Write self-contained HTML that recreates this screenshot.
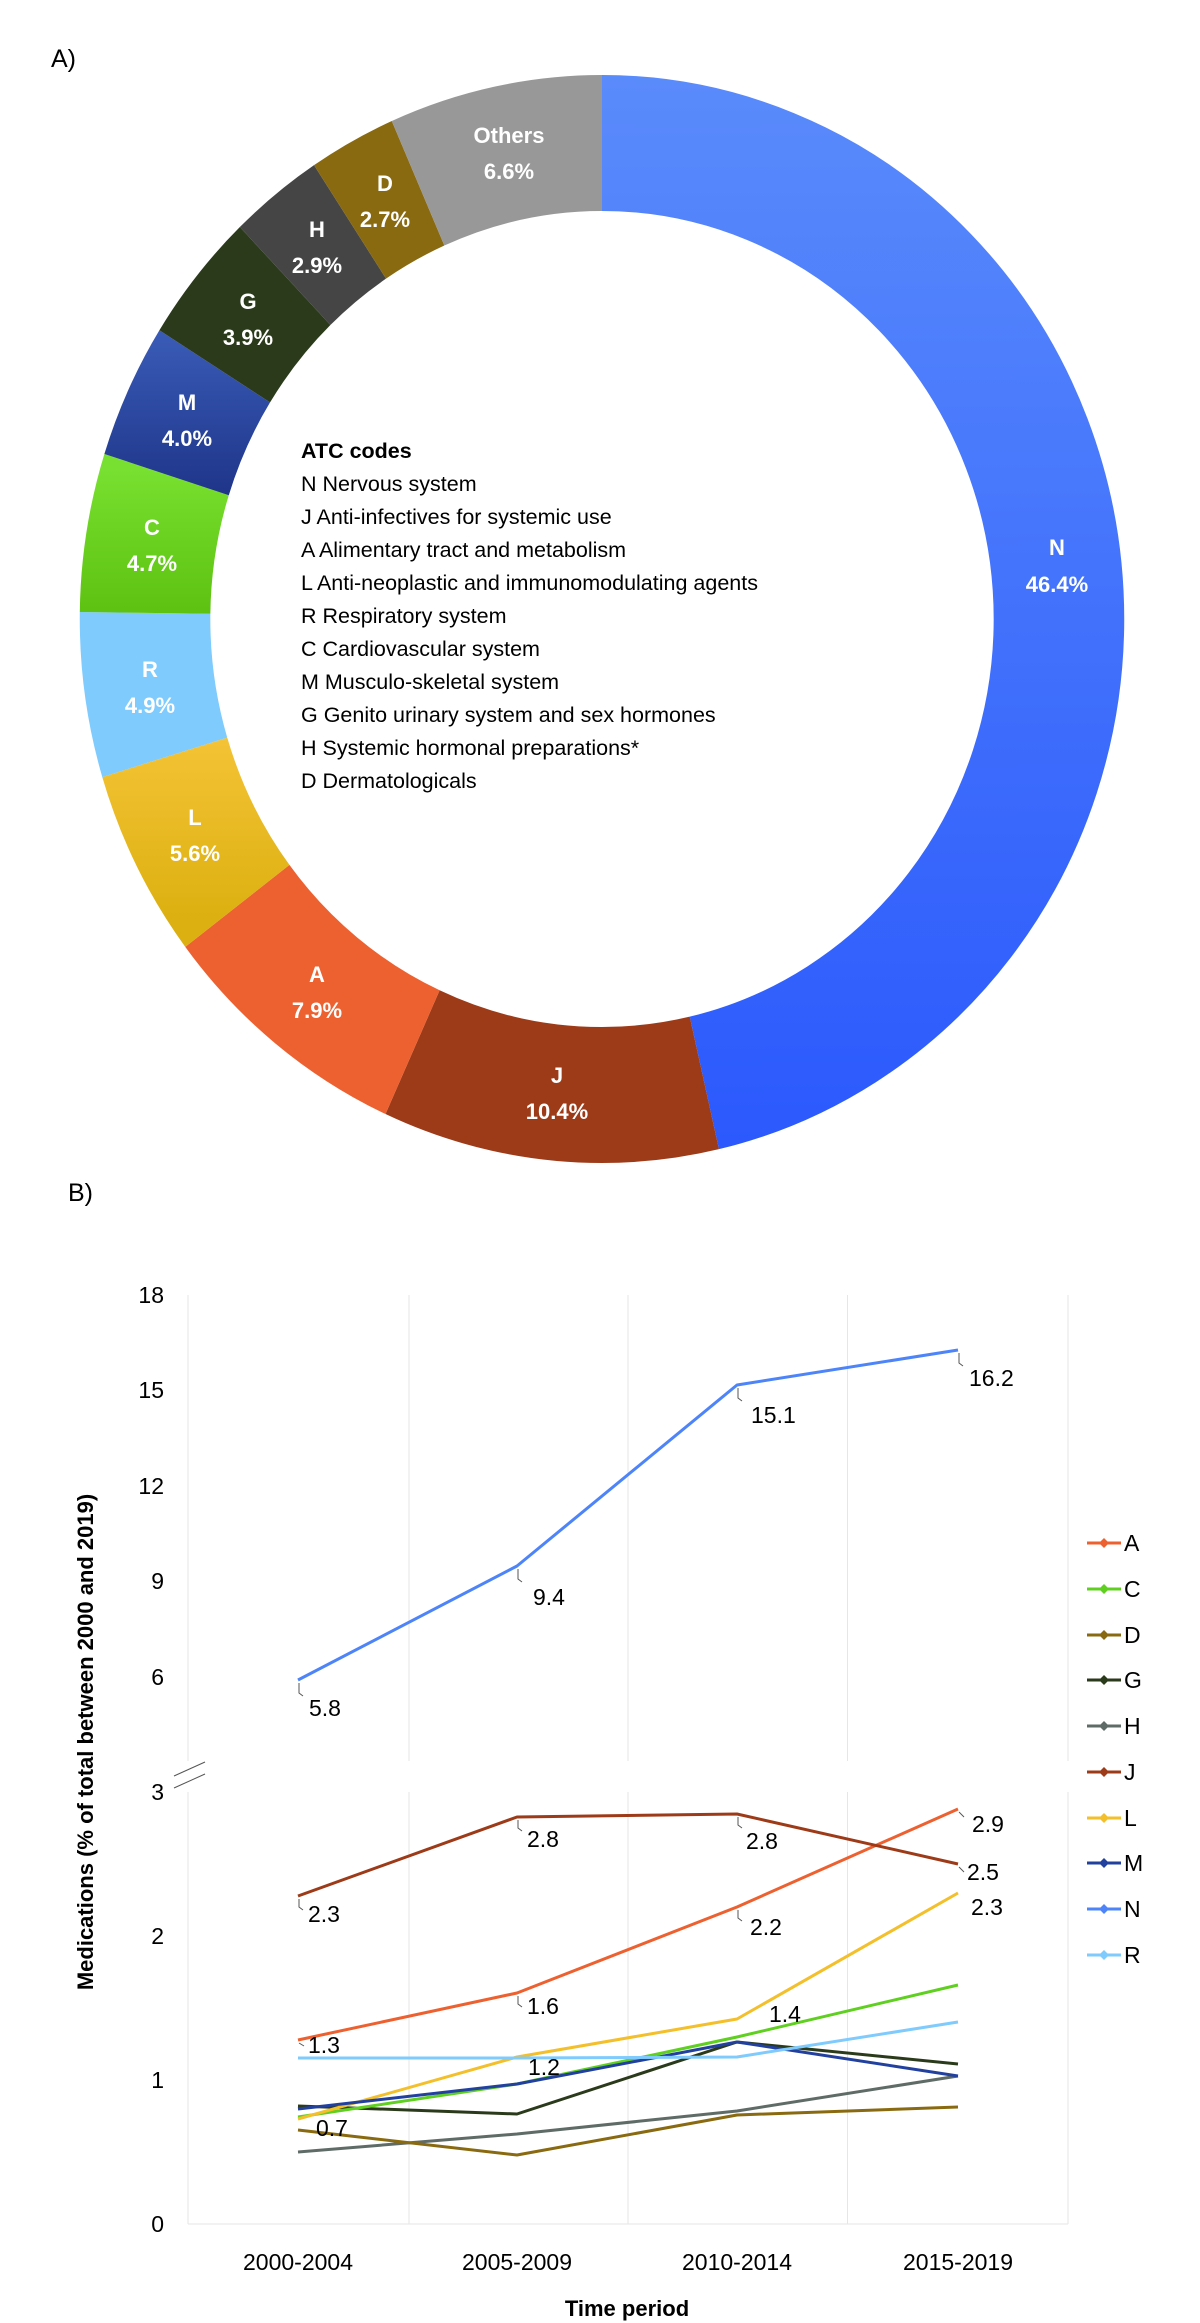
<!DOCTYPE html>
<html><head><meta charset="utf-8"><style>
html,body{margin:0;padding:0;background:#fff}
svg{display:block;font-family:"Liberation Sans",Arial,sans-serif}
</style></head><body>
<svg width="1200" height="2323" viewBox="0 0 1200 2323" xmlns="http://www.w3.org/2000/svg">
<defs>
<linearGradient id="gN" gradientUnits="userSpaceOnUse" x1="544" y1="0" x2="-544" y2="0"><stop offset="0" stop-color="#5a8bfb"/><stop offset="1" stop-color="#2a58fd"/></linearGradient>
<linearGradient id="gL" gradientUnits="userSpaceOnUse" x1="-100" y1="0" x2="-300" y2="0"><stop offset="0" stop-color="#f7c53a"/><stop offset="1" stop-color="#dcb010"/></linearGradient>
<linearGradient id="gM" gradientUnits="userSpaceOnUse" x1="290" y1="0" x2="120" y2="0"><stop offset="0" stop-color="#3a5cb8"/><stop offset="1" stop-color="#1e3488"/></linearGradient>
<linearGradient id="gC" gradientUnits="userSpaceOnUse" x1="150" y1="0" x2="0" y2="0"><stop offset="0" stop-color="#78e030"/><stop offset="1" stop-color="#5cc010"/></linearGradient>
</defs>
<text x="51" y="67" font-size="25" fill="#000">A)</text>
<g transform="translate(602,619) scale(0.96,1) rotate(-90)" fill="none" stroke-width="136">
<circle r="476" stroke="url(#gN)" stroke-dasharray="1387.7 2990.8" stroke-dashoffset="0"/>
<circle r="476" stroke="#9d3b19" stroke-dasharray="311.0 2990.8" stroke-dashoffset="-1387.7"/>
<circle r="476" stroke="#ed6130" stroke-dasharray="236.3 2990.8" stroke-dashoffset="-1698.7"/>
<circle r="476" stroke="url(#gL)" stroke-dasharray="167.5 2990.8" stroke-dashoffset="-1935.0"/>
<circle r="476" stroke="#7fcbfd" stroke-dasharray="146.5 2990.8" stroke-dashoffset="-2102.5"/>
<circle r="476" stroke="url(#gC)" stroke-dasharray="140.6 2990.8" stroke-dashoffset="-2249.0"/>
<circle r="476" stroke="url(#gM)" stroke-dasharray="119.6 2990.8" stroke-dashoffset="-2389.6"/>
<circle r="476" stroke="#2b3a1b" stroke-dasharray="116.6 2990.8" stroke-dashoffset="-2509.2"/>
<circle r="476" stroke="#454545" stroke-dasharray="86.7 2990.8" stroke-dashoffset="-2625.8"/>
<circle r="476" stroke="#8a6a10" stroke-dasharray="80.8 2990.8" stroke-dashoffset="-2712.5"/>
<circle r="476" stroke="#989898" stroke-dasharray="197.5 2990.8" stroke-dashoffset="-2793.3"/>
</g>
<g fill="#fff" font-weight="bold" font-size="22" text-anchor="middle">
<text x="509" y="143">Others</text><text x="509" y="179">6.6%</text>
<text x="385" y="191">D</text><text x="385" y="227">2.7%</text>
<text x="317" y="237">H</text><text x="317" y="273">2.9%</text>
<text x="248" y="309">G</text><text x="248" y="345">3.9%</text>
<text x="187" y="410">M</text><text x="187" y="446">4.0%</text>
<text x="152" y="535">C</text><text x="152" y="571">4.7%</text>
<text x="150" y="677">R</text><text x="150" y="713">4.9%</text>
<text x="195" y="825">L</text><text x="195" y="861">5.6%</text>
<text x="317" y="982">A</text><text x="317" y="1018">7.9%</text>
<text x="557" y="1083">J</text><text x="557" y="1119">10.4%</text>
<text x="1057" y="555">N</text><text x="1057" y="592">46.4%</text>
</g>
<g font-size="21.5" fill="#000">
<text x="301" y="458" font-weight="bold">ATC codes</text>
<text x="301" y="491">N Nervous system</text>
<text x="301" y="524">J Anti-infectives for systemic use</text>
<text x="301" y="557">A Alimentary tract and metabolism</text>
<text x="301" y="590">L Anti-neoplastic and immunomodulating agents</text>
<text x="301" y="623">R Respiratory system</text>
<text x="301" y="656">C Cardiovascular system</text>
<text x="301" y="689">M Musculo-skeletal system</text>
<text x="301" y="722">G Genito urinary system and sex hormones</text>
<text x="301" y="755">H Systemic hormonal preparations*</text>
<text x="301" y="788">D Dermatologicals</text>
</g>

<text x="68" y="1201" font-size="25">B)</text>
<g stroke="#e6e6e6" stroke-width="1">
<line x1="409" y1="1295" x2="409" y2="1761"/><line x1="628" y1="1295" x2="628" y2="1761"/><line x1="847.5" y1="1295" x2="847.5" y2="1761"/><line x1="1068" y1="1295" x2="1068" y2="1761"/>
<line x1="409" y1="1792" x2="409" y2="2224"/><line x1="628" y1="1792" x2="628" y2="2224"/><line x1="847.5" y1="1792" x2="847.5" y2="2224"/><line x1="1068" y1="1792" x2="1068" y2="2224"/>
<line x1="188" y1="1295" x2="188" y2="1761"/><line x1="188" y1="1792" x2="188" y2="2224"/>
<line x1="188" y1="2224" x2="1068" y2="2224"/>
</g>
<g stroke="#555" stroke-width="1"><line x1="174" y1="1776" x2="205" y2="1762"/><line x1="174" y1="1788" x2="205" y2="1774"/></g>
<g font-size="23" text-anchor="end" fill="#000">
<text x="164" y="1303">18</text><text x="164" y="1398">15</text><text x="164" y="1494">12</text><text x="164" y="1589">9</text><text x="164" y="1685">6</text>
<text x="164" y="1800">3</text><text x="164" y="1944">2</text><text x="164" y="2088">1</text><text x="164" y="2232">0</text>
</g>
<g font-size="23" text-anchor="middle"><text x="298" y="2270">2000-2004</text><text x="517" y="2270">2005-2009</text><text x="737" y="2270">2010-2014</text><text x="958" y="2270">2015-2019</text></g>
<text x="627" y="2316" font-size="22" font-weight="bold" text-anchor="middle">Time period</text>
<text transform="translate(93,1742) rotate(-90)" font-size="22" font-weight="bold" text-anchor="middle">Medications (% of total between 2000 and 2019)</text>
<g fill="none" stroke-width="3" stroke-linejoin="round">
<polyline stroke="#4d84f9" points="298,1680 517,1566 737,1385 958,1350"/>
<polyline stroke="#5f6b66" points="298,2152 517,2134 737,2111 958,2076"/>
<polyline stroke="#8a6a10" points="298,2130 517,2155 737,2115 958,2107"/>
<polyline stroke="#2b3a1b" points="298,2106 517,2114 737,2042 958,2064"/>
<polyline stroke="#5fd020" points="298,2117 517,2084 737,2037 958,1985"/>
<polyline stroke="#f3bf2a" points="298,2119 517,2057 737,2019 958,1893"/>
<polyline stroke="#22409e" points="298,2109 517,2084 737,2042 958,2076"/>
<polyline stroke="#7fcbfd" points="298,2058 517,2058 737,2057 958,2022"/>
<polyline stroke="#ed6130" points="298,2040 517,1993 737,1907 958,1809"/>
<polyline stroke="#9d3b19" points="298,1896 517,1817 737,1814 958,1864"/>
</g>
<g stroke="#555" stroke-width="1" fill="none">
<path d="M299,1683 v10 l4,3"/><path d="M518,1569 v10 l4,3"/><path d="M738,1388 v10 l4,3"/><path d="M959,1353 v10 l4,3"/>
<path d="M299,1899 v8 l4,3"/><path d="M518,1820 v8 l4,3"/><path d="M738,1817 v8 l4,3"/><path d="M959,1867 l5,5"/>
<path d="M959,1812 l5,5"/><path d="M738,1910 v8 l4,3"/><path d="M518,1996 v8 l4,3"/><path d="M299,2043 l5,3"/>
</g>
<g font-size="23" fill="#000">
<text x="309" y="1716">5.8</text><text x="533" y="1605">9.4</text><text x="751" y="1423">15.1</text><text x="969" y="1386">16.2</text>
<text x="308" y="1922">2.3</text><text x="527" y="1847">2.8</text><text x="746" y="1849">2.8</text><text x="967" y="1880">2.5</text>
<text x="972" y="1832">2.9</text><text x="750" y="1935">2.2</text><text x="527" y="2014">1.6</text><text x="308" y="2053">1.3</text>
<text x="971" y="1915">2.3</text><text x="769" y="2022">1.4</text><text x="528" y="2075">1.2</text><text x="316" y="2136">0.7</text>
</g>
<g font-size="23" fill="#000" stroke-width="3">
<line x1="1087" y1="1543" x2="1121" y2="1543" stroke="#ed6130"/><path d="M1104,1538 l5,5 -5,5 -5,-5z" fill="#ed6130"/><text x="1124" y="1551">A</text>
<line x1="1087" y1="1589" x2="1121" y2="1589" stroke="#5fd020"/><path d="M1104,1584 l5,5 -5,5 -5,-5z" fill="#5fd020"/><text x="1124" y="1597">C</text>
<line x1="1087" y1="1635" x2="1121" y2="1635" stroke="#8a6a10"/><path d="M1104,1630 l5,5 -5,5 -5,-5z" fill="#8a6a10"/><text x="1124" y="1643">D</text>
<line x1="1087" y1="1680" x2="1121" y2="1680" stroke="#2b3a1b"/><path d="M1104,1675 l5,5 -5,5 -5,-5z" fill="#2b3a1b"/><text x="1124" y="1688">G</text>
<line x1="1087" y1="1726" x2="1121" y2="1726" stroke="#5f6b66"/><path d="M1104,1721 l5,5 -5,5 -5,-5z" fill="#5f6b66"/><text x="1124" y="1734">H</text>
<line x1="1087" y1="1772" x2="1121" y2="1772" stroke="#9d3b19"/><path d="M1104,1767 l5,5 -5,5 -5,-5z" fill="#9d3b19"/><text x="1124" y="1780">J</text>
<line x1="1087" y1="1818" x2="1121" y2="1818" stroke="#f3bf2a"/><path d="M1104,1813 l5,5 -5,5 -5,-5z" fill="#f3bf2a"/><text x="1124" y="1826">L</text>
<line x1="1087" y1="1863" x2="1121" y2="1863" stroke="#22409e"/><path d="M1104,1858 l5,5 -5,5 -5,-5z" fill="#22409e"/><text x="1124" y="1871">M</text>
<line x1="1087" y1="1909" x2="1121" y2="1909" stroke="#4d84f9"/><path d="M1104,1904 l5,5 -5,5 -5,-5z" fill="#4d84f9"/><text x="1124" y="1917">N</text>
<line x1="1087" y1="1955" x2="1121" y2="1955" stroke="#7fcbfd"/><path d="M1104,1950 l5,5 -5,5 -5,-5z" fill="#7fcbfd"/><text x="1124" y="1963">R</text>
</g>
</svg>
</body></html>
